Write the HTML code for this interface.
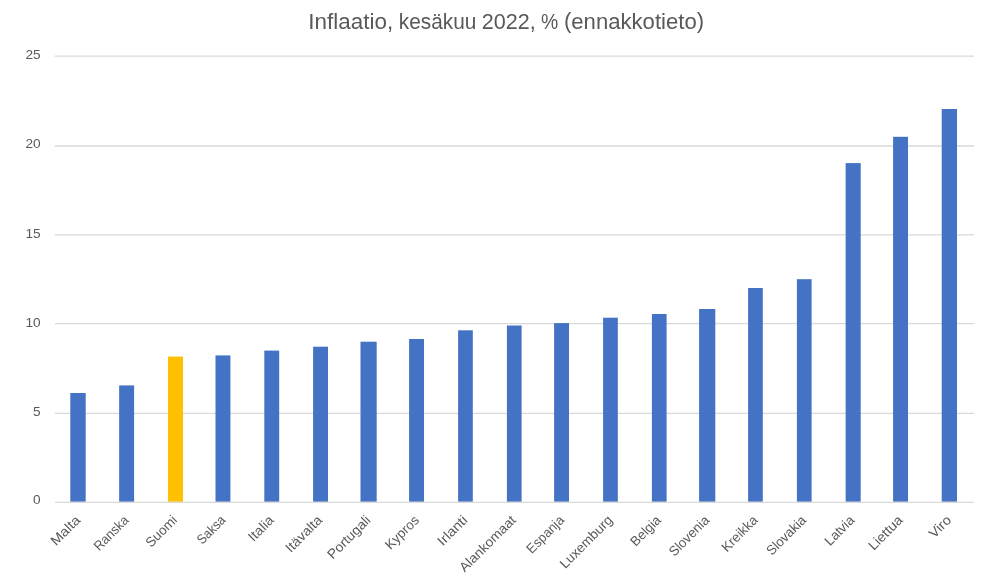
<!DOCTYPE html>
<html lang="fi">
<head>
<meta charset="utf-8">
<title>Inflaatio, kesäkuu 2022, % (ennakkotieto)</title>
<style>
html,body{margin:0;padding:0;background:#fff;}
body{width:1000px;height:577px;overflow:hidden;}
svg{display:block;}
text{font-family:"Liberation Sans",Arial,sans-serif;fill:#595959;}
.t{font-size:21.3px;}
.a{font-size:13.5px;}
</style>
</head>
<body>
<svg width="1000" height="577" viewBox="0 0 1000 577">
<rect x="0" y="0" width="1000" height="577" fill="#ffffff"/>
<g stroke="#d9d9d9" stroke-width="1.3" fill="none">
<line x1="54.8" y1="56.10" x2="974.0" y2="56.10"/>
<line x1="54.8" y1="146.00" x2="974.0" y2="146.00"/>
<line x1="54.8" y1="234.90" x2="974.0" y2="234.90"/>
<line x1="54.8" y1="323.60" x2="974.0" y2="323.60"/>
<line x1="54.8" y1="413.40" x2="974.0" y2="413.40"/>
</g>
<g>
<rect x="70.30" y="393.00" width="15.40" height="108.75" fill="#4472c4"/>
<rect x="119.15" y="385.40" width="14.95" height="116.35" fill="#4472c4"/>
<rect x="168.00" y="356.60" width="15.00" height="145.15" fill="#ffc000"/>
<rect x="215.50" y="355.40" width="14.90" height="146.35" fill="#4472c4"/>
<rect x="264.30" y="350.60" width="14.90" height="151.15" fill="#4472c4"/>
<rect x="313.10" y="346.70" width="14.90" height="155.05" fill="#4472c4"/>
<rect x="360.50" y="341.70" width="16.20" height="160.05" fill="#4472c4"/>
<rect x="409.10" y="339.00" width="14.90" height="162.75" fill="#4472c4"/>
<rect x="458.10" y="330.30" width="14.70" height="171.45" fill="#4472c4"/>
<rect x="506.90" y="325.50" width="14.70" height="176.25" fill="#4472c4"/>
<rect x="554.10" y="323.10" width="14.90" height="178.65" fill="#4472c4"/>
<rect x="603.10" y="317.70" width="14.70" height="184.05" fill="#4472c4"/>
<rect x="651.90" y="314.00" width="14.70" height="187.75" fill="#4472c4"/>
<rect x="699.10" y="309.00" width="16.20" height="192.75" fill="#4472c4"/>
<rect x="748.10" y="288.00" width="14.70" height="213.75" fill="#4472c4"/>
<rect x="796.90" y="279.20" width="14.70" height="222.55" fill="#4472c4"/>
<rect x="845.65" y="163.10" width="15.05" height="338.65" fill="#4472c4"/>
<rect x="893.10" y="136.80" width="14.90" height="364.95" fill="#4472c4"/>
<rect x="941.70" y="109.00" width="15.30" height="392.75" fill="#4472c4"/>
</g>
<line x1="54.8" y1="502.40" x2="974.0" y2="502.40" stroke="#d9d9d9" stroke-width="1.3"/>
<g class="a" text-anchor="end">
<text transform="translate(40.6 59.10) scale(1.0126 1)">25</text>
<text transform="translate(40.6 148.10) scale(1.0126 1)">20</text>
<text transform="translate(40.6 238.10) scale(1.0126 1)">15</text>
<text transform="translate(40.6 327.10) scale(1.0126 1)">10</text>
<text transform="translate(40.6 416.10) scale(1.0126 1)">5</text>
<text transform="translate(40.6 504.20) scale(1.0126 1)">0</text>
</g>
<g class="a" text-anchor="end">
<text transform="translate(81.19 521.00) rotate(-45) scale(1.0803 1)">Malta</text>
<text transform="translate(129.57 521.00) rotate(-45) scale(0.9412 1)">Ranska</text>
<text transform="translate(177.95 521.00) rotate(-45) scale(0.9959 1)">Suomi</text>
<text transform="translate(226.33 521.00) rotate(-45) scale(0.9048 1)">Saksa</text>
<text transform="translate(274.71 521.00) rotate(-45) scale(1.0541 1)">Italia</text>
<text transform="translate(323.09 521.00) rotate(-45) scale(1.0477 1)">Itävalta</text>
<text transform="translate(371.47 521.00) rotate(-45) scale(1.0308 1)">Portugali</text>
<text transform="translate(419.85 521.00) rotate(-45) scale(0.987 1)">Kypros</text>
<text transform="translate(468.23 521.00) rotate(-45) scale(1.09 1)">Irlanti</text>
<text transform="translate(516.61 521.00) rotate(-45) scale(1.0281 1)">Alankomaat</text>
<text transform="translate(564.99 521.00) rotate(-45) scale(0.9616 1)">Espanja</text>
<text transform="translate(613.37 521.00) rotate(-45) scale(1.0095 1)">Luxemburg</text>
<text transform="translate(661.75 521.00) rotate(-45) scale(0.9794 1)">Belgia</text>
<text transform="translate(710.13 521.00) rotate(-45) scale(0.9847 1)">Slovenia</text>
<text transform="translate(758.51 521.00) rotate(-45) scale(0.9941 1)">Kreikka</text>
<text transform="translate(806.89 521.00) rotate(-45) scale(0.973 1)">Slovakia</text>
<text transform="translate(855.27 521.00) rotate(-45) scale(0.997 1)">Latvia</text>
<text transform="translate(903.65 521.00) rotate(-45) scale(1.0442 1)">Liettua</text>
<text transform="translate(952.03 521.00) rotate(-45) scale(1.0559 1)">Viro</text>
</g>
<g class="t">
<text transform="translate(308.37 29.00) scale(1.053 1)">Inflaatio,</text>
<text transform="translate(398.72 29.00) scale(0.9792 1)">kesäkuu</text>
<text transform="translate(481.69 29.00) scale(1.0137 1)">2022,</text>
<text transform="translate(540.89 29.00) scale(0.9118 1)">%</text>
<text transform="translate(563.96 29.00) scale(1.0383 1)"><tspan dy="-1.3">(</tspan><tspan dy="1.3">ennakkotieto</tspan><tspan dy="-1.3">)</tspan></text>
</g>
</svg>
</body>
</html>
